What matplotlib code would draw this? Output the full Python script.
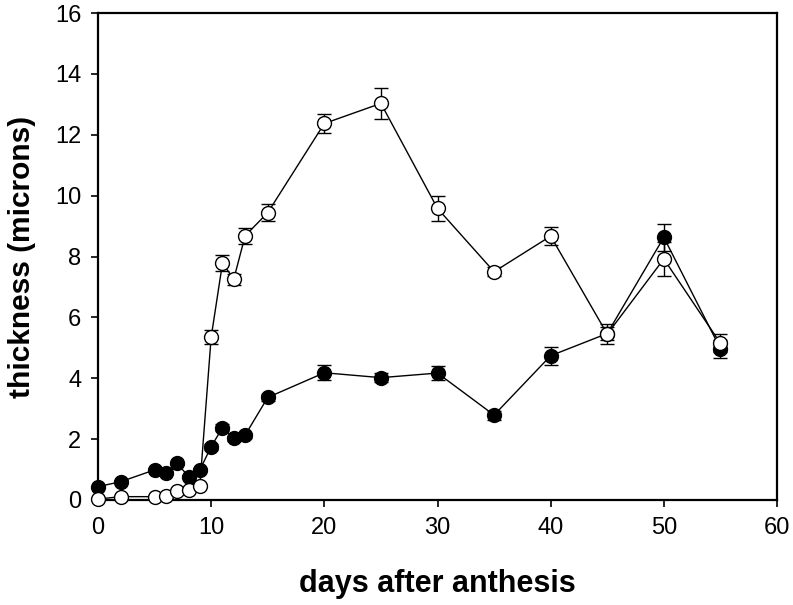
import matplotlib
matplotlib.use("Agg")
import matplotlib.pyplot as plt
import numpy as np

plt.rcParams['font.family'] = ['Liberation Sans', 'DejaVu Sans']

# days after anthesis
days = [0, 2, 5, 6, 7, 8, 9, 10, 11, 12, 13, 15, 20, 25, 30, 35, 40, 45, 50, 55]

# filled circles
filled = [0.44, 0.60, 0.99, 0.90, 1.20, 0.77, 0.99, 1.75, 2.38, 2.03, 2.13, 3.37,
          4.18, 4.02, 4.17, 2.79, 4.74, 5.47, 8.63, 4.97]
filled_err = [0.05, 0.05, 0.06, 0.06, 0.06, 0.06, 0.06, 0.10, 0.12, 0.08, 0.08, 0.12,
              0.25, 0.15, 0.22, 0.15, 0.29, 0.22, 0.45, 0.30]

# open circles
opened = [0.03, 0.11, 0.11, 0.13, 0.31, 0.33, 0.47, 5.35, 7.78, 7.26, 8.68, 9.44,
          12.37, 13.03, 9.58, 7.50, 8.67, 5.45, 7.92, 5.15]
opened_err = [0.02, 0.02, 0.02, 0.02, 0.03, 0.03, 0.04, 0.23, 0.27, 0.18, 0.27, 0.27,
              0.30, 0.50, 0.40, 0.15, 0.30, 0.32, 0.55, 0.30]

fig = plt.figure(figsize=(7.93, 6.05), dpi=100)
ax = fig.add_axes([98/793, 1 - 500/605, (777 - 98)/793, (500 - 13)/605])

# error bars first, then lines and markers on top
ax.errorbar(days, filled, yerr=filled_err, fmt='none', ecolor='black',
            elinewidth=1.0, capsize=5, capthick=1.0, zorder=2)
ax.errorbar(days, opened, yerr=opened_err, fmt='none', ecolor='black',
            elinewidth=1.0, capsize=5, capthick=1.0, zorder=2)
ax.plot(days, filled, '-o', color='black', lw=1.0, ms=10,
        mfc='black', mec='black', mew=1.0, zorder=5, clip_on=False)
ax.plot(days, opened, '-o', color='black', lw=1.0, ms=10,
        mfc='white', mec='black', mew=1.0, zorder=6, clip_on=False)

ax.set_xlim(0, 60)
ax.set_ylim(0, 16)
ax.set_xticks(np.arange(0, 61, 10))
ax.set_yticks(np.arange(0, 17, 2))
for s in ax.spines.values():
    s.set_linewidth(1.6)
ax.tick_params(direction='out', length=5, width=1.2, labelsize=17, pad=7)

ax.set_xlabel('days after anthesis', fontsize=22, fontweight='bold', labelpad=22)
ax.set_ylabel('thickness (microns)', fontsize=21.5, fontweight='bold', labelpad=14)

fig.savefig('out.png', dpi=100)
